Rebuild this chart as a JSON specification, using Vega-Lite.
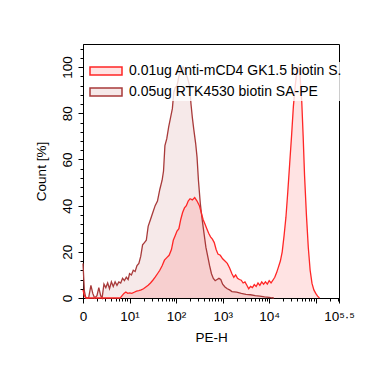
{
  "$schema": "https://vega.github.io/schema/vega-lite/v6.json",
  "width": 256,
  "height": 254,
  "autosize": "none",
  "padding": {"left": 83, "top": 44, "right": 53, "bottom": 77},
  "config": {
    "view": {"stroke": "black", "strokeWidth": 1},
    "font": "Liberation Sans",
    "axis": {
      "domainColor": "black",
      "tickColor": "black",
      "labelColor": "black",
      "titleColor": "black",
      "labelFontSize": 13.5,
      "titleFontSize": 13.5,
      "titleFontWeight": "normal",
      "grid": false
    },
    "legend": {
      "orient": "none",
      "legendX": 2,
      "legendY": 18,
      "padding": 2,
      "fillColor": "rgba(255,255,255,0.8)",
      "symbolType": "M-1,-1L7,-1L7,1L-1,1Z",
      "symbolSize": 64,
      "symbolStrokeWidth": 1.5,
      "labelFontSize": 14,
      "labelColor": "black",
      "labelOffset": 28,
      "labelLimit": 219,
      "rowPadding": 7,
      "title": null
    }
  },
  "data": {
    "values": [
      {"s": "0.05ug RTK4530 biotin SA-PE", "x": 0, "y": 15},
      {"s": "0.05ug RTK4530 biotin SA-PE", "x": 0.03, "y": 3},
      {"s": "0.05ug RTK4530 biotin SA-PE", "x": 0.06, "y": 0},
      {"s": "0.05ug RTK4530 biotin SA-PE", "x": 0.12, "y": 0},
      {"s": "0.05ug RTK4530 biotin SA-PE", "x": 0.17, "y": 5.5},
      {"s": "0.05ug RTK4530 biotin SA-PE", "x": 0.21, "y": 2},
      {"s": "0.05ug RTK4530 biotin SA-PE", "x": 0.25, "y": 0},
      {"s": "0.05ug RTK4530 biotin SA-PE", "x": 0.3, "y": 1},
      {"s": "0.05ug RTK4530 biotin SA-PE", "x": 0.34, "y": 4.5},
      {"s": "0.05ug RTK4530 biotin SA-PE", "x": 0.38, "y": 1},
      {"s": "0.05ug RTK4530 biotin SA-PE", "x": 0.41, "y": 0},
      {"s": "0.05ug RTK4530 biotin SA-PE", "x": 0.45, "y": 6},
      {"s": "0.05ug RTK4530 biotin SA-PE", "x": 0.49, "y": 4.5},
      {"s": "0.05ug RTK4530 biotin SA-PE", "x": 0.53, "y": 6.5},
      {"s": "0.05ug RTK4530 biotin SA-PE", "x": 0.57, "y": 4},
      {"s": "0.05ug RTK4530 biotin SA-PE", "x": 0.61, "y": 7},
      {"s": "0.05ug RTK4530 biotin SA-PE", "x": 0.65, "y": 5},
      {"s": "0.05ug RTK4530 biotin SA-PE", "x": 0.69, "y": 7},
      {"s": "0.05ug RTK4530 biotin SA-PE", "x": 0.73, "y": 5.5},
      {"s": "0.05ug RTK4530 biotin SA-PE", "x": 0.77, "y": 7},
      {"s": "0.05ug RTK4530 biotin SA-PE", "x": 0.81, "y": 6.5},
      {"s": "0.05ug RTK4530 biotin SA-PE", "x": 0.85, "y": 8.5},
      {"s": "0.05ug RTK4530 biotin SA-PE", "x": 0.89, "y": 7.5},
      {"s": "0.05ug RTK4530 biotin SA-PE", "x": 0.93, "y": 9},
      {"s": "0.05ug RTK4530 biotin SA-PE", "x": 0.97, "y": 8},
      {"s": "0.05ug RTK4530 biotin SA-PE", "x": 1.0, "y": 10.6},
      {"s": "0.05ug RTK4530 biotin SA-PE", "x": 1.04, "y": 10},
      {"s": "0.05ug RTK4530 biotin SA-PE", "x": 1.08, "y": 12},
      {"s": "0.05ug RTK4530 biotin SA-PE", "x": 1.12, "y": 11.5},
      {"s": "0.05ug RTK4530 biotin SA-PE", "x": 1.16, "y": 14},
      {"s": "0.05ug RTK4530 biotin SA-PE", "x": 1.2, "y": 15},
      {"s": "0.05ug RTK4530 biotin SA-PE", "x": 1.24, "y": 18},
      {"s": "0.05ug RTK4530 biotin SA-PE", "x": 1.28, "y": 23},
      {"s": "0.05ug RTK4530 biotin SA-PE", "x": 1.32, "y": 24},
      {"s": "0.05ug RTK4530 biotin SA-PE", "x": 1.36, "y": 25},
      {"s": "0.05ug RTK4530 biotin SA-PE", "x": 1.4, "y": 31},
      {"s": "0.05ug RTK4530 biotin SA-PE", "x": 1.45, "y": 34},
      {"s": "0.05ug RTK4530 biotin SA-PE", "x": 1.5, "y": 37},
      {"s": "0.05ug RTK4530 biotin SA-PE", "x": 1.55, "y": 40},
      {"s": "0.05ug RTK4530 biotin SA-PE", "x": 1.6, "y": 42},
      {"s": "0.05ug RTK4530 biotin SA-PE", "x": 1.65, "y": 47},
      {"s": "0.05ug RTK4530 biotin SA-PE", "x": 1.7, "y": 51},
      {"s": "0.05ug RTK4530 biotin SA-PE", "x": 1.73, "y": 55},
      {"s": "0.05ug RTK4530 biotin SA-PE", "x": 1.76, "y": 66},
      {"s": "0.05ug RTK4530 biotin SA-PE", "x": 1.8, "y": 69},
      {"s": "0.05ug RTK4530 biotin SA-PE", "x": 1.84, "y": 74},
      {"s": "0.05ug RTK4530 biotin SA-PE", "x": 1.88, "y": 78},
      {"s": "0.05ug RTK4530 biotin SA-PE", "x": 1.92, "y": 82},
      {"s": "0.05ug RTK4530 biotin SA-PE", "x": 1.95, "y": 89},
      {"s": "0.05ug RTK4530 biotin SA-PE", "x": 1.98, "y": 91},
      {"s": "0.05ug RTK4530 biotin SA-PE", "x": 2.02, "y": 92},
      {"s": "0.05ug RTK4530 biotin SA-PE", "x": 2.06, "y": 96},
      {"s": "0.05ug RTK4530 biotin SA-PE", "x": 2.1, "y": 99},
      {"s": "0.05ug RTK4530 biotin SA-PE", "x": 2.15, "y": 100},
      {"s": "0.05ug RTK4530 biotin SA-PE", "x": 2.2, "y": 98},
      {"s": "0.05ug RTK4530 biotin SA-PE", "x": 2.25, "y": 95},
      {"s": "0.05ug RTK4530 biotin SA-PE", "x": 2.29, "y": 92},
      {"s": "0.05ug RTK4530 biotin SA-PE", "x": 2.32, "y": 84},
      {"s": "0.05ug RTK4530 biotin SA-PE", "x": 2.35, "y": 78},
      {"s": "0.05ug RTK4530 biotin SA-PE", "x": 2.38, "y": 73},
      {"s": "0.05ug RTK4530 biotin SA-PE", "x": 2.42, "y": 67},
      {"s": "0.05ug RTK4530 biotin SA-PE", "x": 2.45, "y": 61},
      {"s": "0.05ug RTK4530 biotin SA-PE", "x": 2.48, "y": 51},
      {"s": "0.05ug RTK4530 biotin SA-PE", "x": 2.52, "y": 41},
      {"s": "0.05ug RTK4530 biotin SA-PE", "x": 2.56, "y": 34},
      {"s": "0.05ug RTK4530 biotin SA-PE", "x": 2.6, "y": 28},
      {"s": "0.05ug RTK4530 biotin SA-PE", "x": 2.64, "y": 22},
      {"s": "0.05ug RTK4530 biotin SA-PE", "x": 2.68, "y": 18},
      {"s": "0.05ug RTK4530 biotin SA-PE", "x": 2.72, "y": 14},
      {"s": "0.05ug RTK4530 biotin SA-PE", "x": 2.76, "y": 10.5},
      {"s": "0.05ug RTK4530 biotin SA-PE", "x": 2.8, "y": 8.5},
      {"s": "0.05ug RTK4530 biotin SA-PE", "x": 2.84, "y": 7.5},
      {"s": "0.05ug RTK4530 biotin SA-PE", "x": 2.88, "y": 8},
      {"s": "0.05ug RTK4530 biotin SA-PE", "x": 2.92, "y": 8.5},
      {"s": "0.05ug RTK4530 biotin SA-PE", "x": 2.96, "y": 8},
      {"s": "0.05ug RTK4530 biotin SA-PE", "x": 3.0, "y": 6},
      {"s": "0.05ug RTK4530 biotin SA-PE", "x": 3.05, "y": 4.8},
      {"s": "0.05ug RTK4530 biotin SA-PE", "x": 3.1, "y": 4},
      {"s": "0.05ug RTK4530 biotin SA-PE", "x": 3.15, "y": 3.5},
      {"s": "0.05ug RTK4530 biotin SA-PE", "x": 3.2, "y": 2.8},
      {"s": "0.05ug RTK4530 biotin SA-PE", "x": 3.3, "y": 2.5},
      {"s": "0.05ug RTK4530 biotin SA-PE", "x": 3.4, "y": 2},
      {"s": "0.05ug RTK4530 biotin SA-PE", "x": 3.5, "y": 1.6},
      {"s": "0.05ug RTK4530 biotin SA-PE", "x": 3.6, "y": 1.4},
      {"s": "0.05ug RTK4530 biotin SA-PE", "x": 3.7, "y": 1},
      {"s": "0.05ug RTK4530 biotin SA-PE", "x": 3.8, "y": 0.8},
      {"s": "0.05ug RTK4530 biotin SA-PE", "x": 3.9, "y": 0.5},
      {"s": "0.05ug RTK4530 biotin SA-PE", "x": 4.0, "y": 0.3},
      {"s": "0.05ug RTK4530 biotin SA-PE", "x": 4.06, "y": 0.1},
      {"s": "0.05ug RTK4530 biotin SA-PE", "x": 4.1, "y": 0},
      {"s": "0.01ug Anti-mCD4 GK1.5 biotin SA-PE", "x": 0, "y": 3.5},
      {"s": "0.01ug Anti-mCD4 GK1.5 biotin SA-PE", "x": 0.03, "y": 1},
      {"s": "0.01ug Anti-mCD4 GK1.5 biotin SA-PE", "x": 0.07, "y": 0},
      {"s": "0.01ug Anti-mCD4 GK1.5 biotin SA-PE", "x": 0.4, "y": 0},
      {"s": "0.01ug Anti-mCD4 GK1.5 biotin SA-PE", "x": 0.8, "y": 0},
      {"s": "0.01ug Anti-mCD4 GK1.5 biotin SA-PE", "x": 0.84, "y": 1},
      {"s": "0.01ug Anti-mCD4 GK1.5 biotin SA-PE", "x": 0.88, "y": 2},
      {"s": "0.01ug Anti-mCD4 GK1.5 biotin SA-PE", "x": 0.92, "y": 2.6},
      {"s": "0.01ug Anti-mCD4 GK1.5 biotin SA-PE", "x": 0.96, "y": 2},
      {"s": "0.01ug Anti-mCD4 GK1.5 biotin SA-PE", "x": 1.0, "y": 2.2},
      {"s": "0.01ug Anti-mCD4 GK1.5 biotin SA-PE", "x": 1.05, "y": 2},
      {"s": "0.01ug Anti-mCD4 GK1.5 biotin SA-PE", "x": 1.1, "y": 2.5},
      {"s": "0.01ug Anti-mCD4 GK1.5 biotin SA-PE", "x": 1.15, "y": 3},
      {"s": "0.01ug Anti-mCD4 GK1.5 biotin SA-PE", "x": 1.2, "y": 3.2},
      {"s": "0.01ug Anti-mCD4 GK1.5 biotin SA-PE", "x": 1.25, "y": 3.5},
      {"s": "0.01ug Anti-mCD4 GK1.5 biotin SA-PE", "x": 1.3, "y": 4},
      {"s": "0.01ug Anti-mCD4 GK1.5 biotin SA-PE", "x": 1.35, "y": 4.8},
      {"s": "0.01ug Anti-mCD4 GK1.5 biotin SA-PE", "x": 1.4, "y": 5.5},
      {"s": "0.01ug Anti-mCD4 GK1.5 biotin SA-PE", "x": 1.45, "y": 6.5},
      {"s": "0.01ug Anti-mCD4 GK1.5 biotin SA-PE", "x": 1.5, "y": 7.7},
      {"s": "0.01ug Anti-mCD4 GK1.5 biotin SA-PE", "x": 1.55, "y": 9},
      {"s": "0.01ug Anti-mCD4 GK1.5 biotin SA-PE", "x": 1.6, "y": 10.5},
      {"s": "0.01ug Anti-mCD4 GK1.5 biotin SA-PE", "x": 1.65, "y": 12},
      {"s": "0.01ug Anti-mCD4 GK1.5 biotin SA-PE", "x": 1.7, "y": 14},
      {"s": "0.01ug Anti-mCD4 GK1.5 biotin SA-PE", "x": 1.75, "y": 16.4},
      {"s": "0.01ug Anti-mCD4 GK1.5 biotin SA-PE", "x": 1.8, "y": 17.5},
      {"s": "0.01ug Anti-mCD4 GK1.5 biotin SA-PE", "x": 1.85, "y": 18.5},
      {"s": "0.01ug Anti-mCD4 GK1.5 biotin SA-PE", "x": 1.9, "y": 21},
      {"s": "0.01ug Anti-mCD4 GK1.5 biotin SA-PE", "x": 1.94, "y": 25},
      {"s": "0.01ug Anti-mCD4 GK1.5 biotin SA-PE", "x": 1.98, "y": 27},
      {"s": "0.01ug Anti-mCD4 GK1.5 biotin SA-PE", "x": 2.02, "y": 29},
      {"s": "0.01ug Anti-mCD4 GK1.5 biotin SA-PE", "x": 2.06, "y": 30},
      {"s": "0.01ug Anti-mCD4 GK1.5 biotin SA-PE", "x": 2.1, "y": 34},
      {"s": "0.01ug Anti-mCD4 GK1.5 biotin SA-PE", "x": 2.14, "y": 37},
      {"s": "0.01ug Anti-mCD4 GK1.5 biotin SA-PE", "x": 2.18, "y": 39},
      {"s": "0.01ug Anti-mCD4 GK1.5 biotin SA-PE", "x": 2.22, "y": 40},
      {"s": "0.01ug Anti-mCD4 GK1.5 biotin SA-PE", "x": 2.26, "y": 42},
      {"s": "0.01ug Anti-mCD4 GK1.5 biotin SA-PE", "x": 2.3, "y": 43},
      {"s": "0.01ug Anti-mCD4 GK1.5 biotin SA-PE", "x": 2.35, "y": 42.5},
      {"s": "0.01ug Anti-mCD4 GK1.5 biotin SA-PE", "x": 2.4, "y": 43.5},
      {"s": "0.01ug Anti-mCD4 GK1.5 biotin SA-PE", "x": 2.45, "y": 42},
      {"s": "0.01ug Anti-mCD4 GK1.5 biotin SA-PE", "x": 2.5, "y": 40},
      {"s": "0.01ug Anti-mCD4 GK1.5 biotin SA-PE", "x": 2.54, "y": 37},
      {"s": "0.01ug Anti-mCD4 GK1.5 biotin SA-PE", "x": 2.58, "y": 34},
      {"s": "0.01ug Anti-mCD4 GK1.5 biotin SA-PE", "x": 2.62, "y": 32},
      {"s": "0.01ug Anti-mCD4 GK1.5 biotin SA-PE", "x": 2.66, "y": 30},
      {"s": "0.01ug Anti-mCD4 GK1.5 biotin SA-PE", "x": 2.7, "y": 28},
      {"s": "0.01ug Anti-mCD4 GK1.5 biotin SA-PE", "x": 2.74, "y": 26.5},
      {"s": "0.01ug Anti-mCD4 GK1.5 biotin SA-PE", "x": 2.78, "y": 25.5},
      {"s": "0.01ug Anti-mCD4 GK1.5 biotin SA-PE", "x": 2.82, "y": 24},
      {"s": "0.01ug Anti-mCD4 GK1.5 biotin SA-PE", "x": 2.86, "y": 21},
      {"s": "0.01ug Anti-mCD4 GK1.5 biotin SA-PE", "x": 2.9, "y": 19},
      {"s": "0.01ug Anti-mCD4 GK1.5 biotin SA-PE", "x": 2.95, "y": 18.5},
      {"s": "0.01ug Anti-mCD4 GK1.5 biotin SA-PE", "x": 3.0, "y": 17},
      {"s": "0.01ug Anti-mCD4 GK1.5 biotin SA-PE", "x": 3.05, "y": 16},
      {"s": "0.01ug Anti-mCD4 GK1.5 biotin SA-PE", "x": 3.1, "y": 15},
      {"s": "0.01ug Anti-mCD4 GK1.5 biotin SA-PE", "x": 3.15, "y": 13},
      {"s": "0.01ug Anti-mCD4 GK1.5 biotin SA-PE", "x": 3.2, "y": 10.5},
      {"s": "0.01ug Anti-mCD4 GK1.5 biotin SA-PE", "x": 3.24, "y": 9},
      {"s": "0.01ug Anti-mCD4 GK1.5 biotin SA-PE", "x": 3.28, "y": 10},
      {"s": "0.01ug Anti-mCD4 GK1.5 biotin SA-PE", "x": 3.32, "y": 8.5},
      {"s": "0.01ug Anti-mCD4 GK1.5 biotin SA-PE", "x": 3.36, "y": 8},
      {"s": "0.01ug Anti-mCD4 GK1.5 biotin SA-PE", "x": 3.4, "y": 7.7},
      {"s": "0.01ug Anti-mCD4 GK1.5 biotin SA-PE", "x": 3.44, "y": 6.5},
      {"s": "0.01ug Anti-mCD4 GK1.5 biotin SA-PE", "x": 3.48, "y": 7},
      {"s": "0.01ug Anti-mCD4 GK1.5 biotin SA-PE", "x": 3.52, "y": 5.5},
      {"s": "0.01ug Anti-mCD4 GK1.5 biotin SA-PE", "x": 3.56, "y": 4},
      {"s": "0.01ug Anti-mCD4 GK1.5 biotin SA-PE", "x": 3.6, "y": 5},
      {"s": "0.01ug Anti-mCD4 GK1.5 biotin SA-PE", "x": 3.64, "y": 4.5},
      {"s": "0.01ug Anti-mCD4 GK1.5 biotin SA-PE", "x": 3.68, "y": 5.8},
      {"s": "0.01ug Anti-mCD4 GK1.5 biotin SA-PE", "x": 3.72, "y": 5},
      {"s": "0.01ug Anti-mCD4 GK1.5 biotin SA-PE", "x": 3.76, "y": 6.5},
      {"s": "0.01ug Anti-mCD4 GK1.5 biotin SA-PE", "x": 3.8, "y": 5.5},
      {"s": "0.01ug Anti-mCD4 GK1.5 biotin SA-PE", "x": 3.84, "y": 7},
      {"s": "0.01ug Anti-mCD4 GK1.5 biotin SA-PE", "x": 3.88, "y": 6},
      {"s": "0.01ug Anti-mCD4 GK1.5 biotin SA-PE", "x": 3.92, "y": 7},
      {"s": "0.01ug Anti-mCD4 GK1.5 biotin SA-PE", "x": 3.96, "y": 6},
      {"s": "0.01ug Anti-mCD4 GK1.5 biotin SA-PE", "x": 4.0, "y": 7.5},
      {"s": "0.01ug Anti-mCD4 GK1.5 biotin SA-PE", "x": 4.04, "y": 6.5},
      {"s": "0.01ug Anti-mCD4 GK1.5 biotin SA-PE", "x": 4.08, "y": 7.7},
      {"s": "0.01ug Anti-mCD4 GK1.5 biotin SA-PE", "x": 4.12, "y": 9},
      {"s": "0.01ug Anti-mCD4 GK1.5 biotin SA-PE", "x": 4.16, "y": 11},
      {"s": "0.01ug Anti-mCD4 GK1.5 biotin SA-PE", "x": 4.2, "y": 13.5},
      {"s": "0.01ug Anti-mCD4 GK1.5 biotin SA-PE", "x": 4.24, "y": 16},
      {"s": "0.01ug Anti-mCD4 GK1.5 biotin SA-PE", "x": 4.28, "y": 20},
      {"s": "0.01ug Anti-mCD4 GK1.5 biotin SA-PE", "x": 4.32, "y": 27},
      {"s": "0.01ug Anti-mCD4 GK1.5 biotin SA-PE", "x": 4.36, "y": 35},
      {"s": "0.01ug Anti-mCD4 GK1.5 biotin SA-PE", "x": 4.4, "y": 46},
      {"s": "0.01ug Anti-mCD4 GK1.5 biotin SA-PE", "x": 4.44, "y": 58},
      {"s": "0.01ug Anti-mCD4 GK1.5 biotin SA-PE", "x": 4.48, "y": 70},
      {"s": "0.01ug Anti-mCD4 GK1.5 biotin SA-PE", "x": 4.52, "y": 83},
      {"s": "0.01ug Anti-mCD4 GK1.5 biotin SA-PE", "x": 4.56, "y": 92},
      {"s": "0.01ug Anti-mCD4 GK1.5 biotin SA-PE", "x": 4.6, "y": 99},
      {"s": "0.01ug Anti-mCD4 GK1.5 biotin SA-PE", "x": 4.63, "y": 100},
      {"s": "0.01ug Anti-mCD4 GK1.5 biotin SA-PE", "x": 4.66, "y": 97},
      {"s": "0.01ug Anti-mCD4 GK1.5 biotin SA-PE", "x": 4.7, "y": 85},
      {"s": "0.01ug Anti-mCD4 GK1.5 biotin SA-PE", "x": 4.73, "y": 70},
      {"s": "0.01ug Anti-mCD4 GK1.5 biotin SA-PE", "x": 4.76, "y": 53},
      {"s": "0.01ug Anti-mCD4 GK1.5 biotin SA-PE", "x": 4.8, "y": 36},
      {"s": "0.01ug Anti-mCD4 GK1.5 biotin SA-PE", "x": 4.84, "y": 22},
      {"s": "0.01ug Anti-mCD4 GK1.5 biotin SA-PE", "x": 4.88, "y": 12},
      {"s": "0.01ug Anti-mCD4 GK1.5 biotin SA-PE", "x": 4.92, "y": 6.3},
      {"s": "0.01ug Anti-mCD4 GK1.5 biotin SA-PE", "x": 4.96, "y": 3.5},
      {"s": "0.01ug Anti-mCD4 GK1.5 biotin SA-PE", "x": 5.0, "y": 2},
      {"s": "0.01ug Anti-mCD4 GK1.5 biotin SA-PE", "x": 5.04, "y": 0.8},
      {"s": "0.01ug Anti-mCD4 GK1.5 biotin SA-PE", "x": 5.08, "y": 0}
    ]
  },
  "encoding": {
    "x": {
      "field": "x",
      "type": "quantitative",
      "title": "PE-H",
      "scale": {"domain": [0, 5.5], "nice": false, "zero": false},
      "axis": {
        "values": [0, 0.30103, 0.47712, 0.60206, 0.69897, 0.77815, 0.8451, 0.90309, 0.95424,
                   1, 1.30103, 1.47712, 1.60206, 1.69897, 1.77815, 1.8451, 1.90309, 1.95424,
                   2, 2.30103, 2.47712, 2.60206, 2.69897, 2.77815, 2.8451, 2.90309, 2.95424,
                   3, 3.30103, 3.47712, 3.60206, 3.69897, 3.77815, 3.8451, 3.90309, 3.95424,
                   4, 4.30103, 4.47712, 4.60206, 4.69897, 4.77815, 4.8451, 4.90309, 4.95424,
                   5, 5.30103, 5.47712, 5.5],
        "labelExpr": "datum.value === 0 ? '0' : datum.value === 1 ? '10¹' : datum.value === 2 ? '10²' : datum.value === 3 ? '10³' : datum.value === 4 ? '10⁴' : datum.value === 5.5 ? '10⁵·⁵' : ''",
        "labelFlush": false,
        "labelOverlap": false,
        "labelPadding": 6,
        "titlePadding": 8,
        "tickSize": {"condition": {"test": "datum.value === 0 || datum.value === 1 || datum.value === 2 || datum.value === 3 || datum.value === 4 || datum.value === 5 || datum.value === 5.5", "value": 5}, "value": 3}
      }
    },
    "y": {
      "field": "y",
      "type": "quantitative",
      "title": "Count [%]",
      "stack": null,
      "scale": {"domain": [0, 110], "nice": false},
      "axis": {
        "values": [0, 4, 8, 12, 16, 20, 24, 28, 32, 36, 40, 44, 48, 52, 56, 60, 64, 68, 72, 76, 80, 84, 88, 92, 96, 100, 104, 108],
        "labelExpr": "datum.value % 20 === 0 ? datum.label : ''",
        "labelAngle": -90,
        "labelOverlap": false,
        "labelPadding": 4,
        "titlePadding": 12,
        "tickSize": {"condition": {"test": "datum.value % 20 === 0", "value": 5}, "value": 3}
      }
    }
  },
  "layer": [
    {
      "mark": {"type": "area", "interpolate": "linear"},
      "encoding": {
        "fill": {
          "field": "s",
          "type": "nominal",
          "scale": {
            "domain": ["0.01ug Anti-mCD4 GK1.5 biotin SA-PE", "0.05ug RTK4530 biotin SA-PE"],
            "range": ["rgba(255,40,40,0.13)", "rgba(170,40,40,0.10)"]
          },
          "legend": {"encode": {"labels": {"update": {"ellipsis": {"value": "."}}}}}
        }
      }
    },
    {
      "mark": {"type": "line", "interpolate": "linear", "strokeWidth": 1.3},
      "encoding": {
        "stroke": {
          "field": "s",
          "type": "nominal",
          "scale": {
            "domain": ["0.01ug Anti-mCD4 GK1.5 biotin SA-PE", "0.05ug RTK4530 biotin SA-PE"],
            "range": ["#ff2626", "#a83a3a"]
          },
          "legend": {"encode": {"labels": {"update": {"ellipsis": {"value": "."}}}}}
        }
      }
    }
  ]
}
